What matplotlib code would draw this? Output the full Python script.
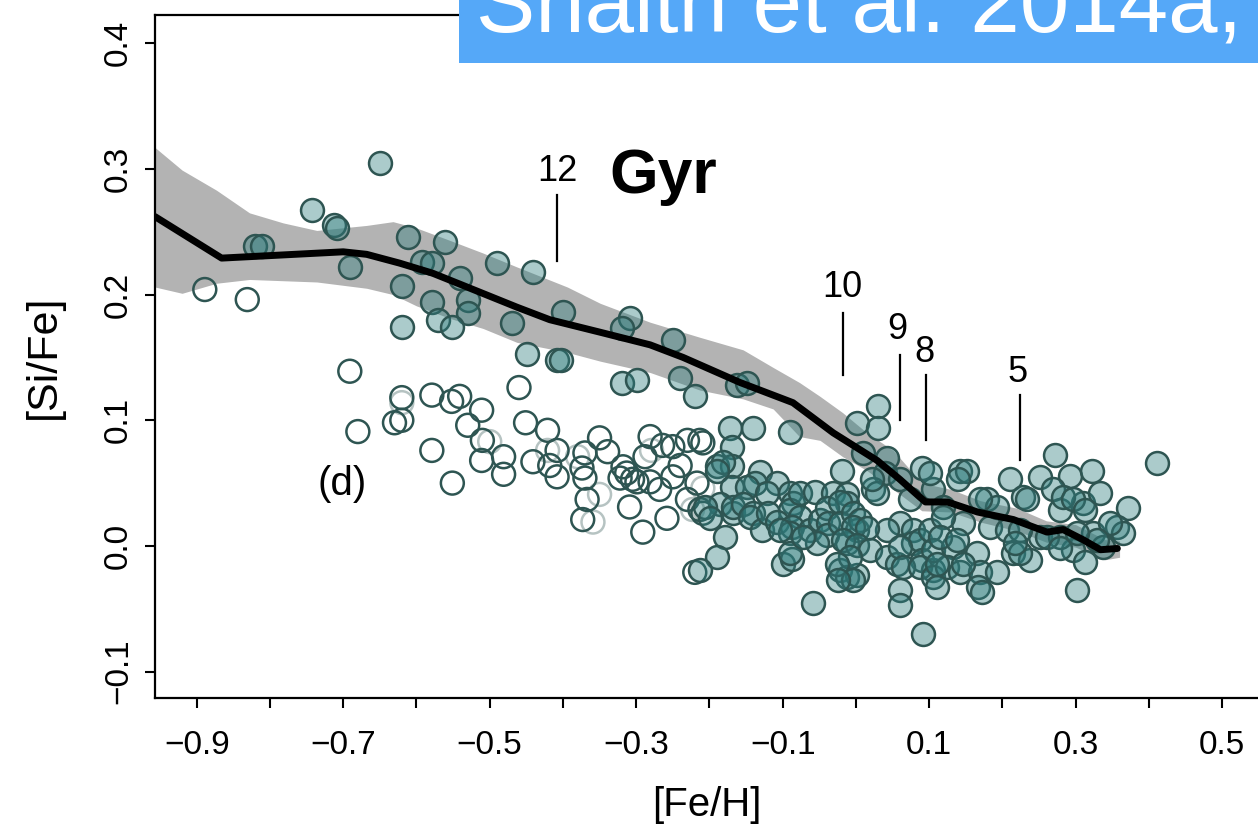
import matplotlib
matplotlib.use("Agg")
import matplotlib.pyplot as plt
from matplotlib.patches import Rectangle

plt.rcParams['font.family'] = ['Liberation Sans', 'DejaVu Sans']

# filled stars (thick disc / old sequence + thin disc)
fill_feh = [-0.650, -0.742, -0.712, -0.709, -0.821, -0.811, -0.691, -0.612, -0.561, -0.592,
            -0.579, -0.541, -0.620, -0.490, -0.441, -0.530, -0.530, -0.579, -0.620, -0.571,
            -0.552, -0.470, -0.400, -0.449, -0.408, -0.402, -0.309, -0.320, -0.250, -0.320,
            -0.299, -0.240, -0.220, -0.163, -0.149, -0.090, -0.172, -0.141, 0.001, 0.030,
            0.030, 0.010, 0.042, 0.040, -0.019, 0.090,
            -0.169, -0.189, -0.169, -0.182, -0.190, -0.169, -0.131, -0.138, -0.108, -0.149,
            -0.186, -0.206, -0.168, -0.168, -0.199, -0.179, -0.190, -0.213, -0.154, -0.141,
            -0.145, -0.128, -0.122, -0.120, -0.090, -0.086, -0.090, -0.077, -0.077, -0.056,
            -0.031, -0.012, -0.012, 0.023, 0.029, -0.108, -0.087, -0.090, -0.063, -0.049,
            -0.040, -0.038, -0.040, -0.022, -0.022, -0.004, 0.001, 0.005, -0.053, -0.100,
            -0.087, -0.090, -0.104, -0.072, -0.012, -0.004, 0.022, 0.060, 0.074, 0.105,
            0.060, 0.078, 0.042, 0.015, -0.018, 0.001, 0.019, 0.042, 0.056, 0.078,
            0.087, 0.101, 0.090, 0.105, -0.022, -0.012, 0.001, -0.008, -0.026, -0.004,
            -0.025, 0.060, 0.060, -0.059, 0.092, 0.060, 0.105, 0.133, 0.165, 0.064,
            0.087, 0.105, 0.124, 0.142, 0.169, 0.193, 0.167, 0.172, 0.111, 0.142,
            0.152, 0.139, 0.119, 0.179, 0.210, 0.228, 0.183, 0.206, 0.251, 0.272,
            0.292, 0.322, 0.269, 0.279, 0.310, 0.333, 0.372, 0.357, 0.324, 0.296,
            0.313, 0.251, 0.279, 0.224, 0.214, 0.238, 0.302, 0.411, 0.337, 0.365,
            0.283, 0.296, 0.234, 0.193, 0.169, 0.101, 0.313, 0.347, 0.329, 0.302,
            0.261, 0.146, 0.119, 0.115, 0.138, 0.224, 0.217, 0.279, 0.111, 0.146]
fill_sife = [0.305, 0.267, 0.255, 0.253, 0.239, 0.239, 0.222, 0.246, 0.242, 0.226,
             0.225, 0.213, 0.207, 0.225, 0.218, 0.196, 0.185, 0.194, 0.174, 0.180,
             0.174, 0.177, 0.186, 0.153, 0.148, 0.148, 0.181, 0.173, 0.164, 0.130,
             0.132, 0.134, 0.119, 0.128, 0.130, 0.091, 0.094, 0.094, 0.098, 0.111,
             0.094, 0.074, 0.070, 0.058, 0.060, 0.062,
             0.079, 0.064, 0.064, 0.067, 0.060, 0.047, 0.059, 0.050, 0.050, 0.047,
             0.033, 0.031, 0.026, 0.031, 0.022, 0.007, -0.009, -0.019, 0.033, 0.026,
             0.023, 0.013, 0.042, 0.026, 0.042, 0.034, 0.029, 0.042, 0.023, 0.043,
             0.042, 0.041, 0.034, 0.045, 0.042, 0.019, 0.015, 0.010, 0.013, 0.021,
             0.030, 0.018, 0.009, 0.035, 0.018, 0.026, 0.013, 0.021, 0.002, -0.014,
             -0.010, -0.006, 0.013, 0.007, 0.002, 0.015, 0.053, 0.053, 0.037, 0.045,
             0.018, 0.013, 0.013, 0.014, 0.005, 0.001, -0.003, -0.009, -0.014, 0.002,
             0.005, 0.013, -0.011, -0.019, -0.019, -0.025, -0.023, -0.009, -0.014, -0.027,
             -0.027, -0.035, -0.047, -0.045, -0.070, -0.001, -0.003, -0.001, -0.006, -0.017,
             -0.017, -0.025, -0.017, -0.021, -0.021, -0.021, -0.033, -0.037, -0.033, 0.060,
             0.060, 0.053, 0.031, 0.037, 0.053, 0.039, 0.015, 0.013, 0.055, 0.072,
             0.056, 0.060, 0.045, 0.029, 0.034, 0.042, 0.030, 0.015, 0.010, -0.003,
             -0.013, 0.007, 0.007, 0.013, -0.006, -0.011, -0.035, 0.066, -0.001, 0.010,
             0.039, 0.037, 0.037, 0.031, 0.037, 0.058, 0.029, 0.018, 0.005, 0.010,
             0.007, 0.018, 0.023, 0.007, 0.005, -0.006, 0.002, -0.002, -0.014, -0.014]

# open circles (metal-poor thin disc)
open_feh = [-0.889, -0.831, -0.691, -0.680, -0.620, -0.579, -0.630, -0.620, -0.552, -0.541,
            -0.511, -0.460, -0.530, -0.510, -0.579, -0.511, -0.481, -0.481, -0.551, -0.451,
            -0.421, -0.408, -0.441, -0.418, -0.408, -0.370, -0.374, -0.370, -0.350, -0.339,
            -0.367, -0.373, -0.318, -0.313, -0.309, -0.291, -0.299, -0.288, -0.281, -0.281,
            -0.268, -0.264, -0.250, -0.258, -0.250, -0.230, -0.213, -0.240, -0.217, -0.230,
            -0.213, -0.220, -0.209, -0.305, -0.322, -0.209]
open_sife = [0.204, 0.196, 0.139, 0.091, 0.118, 0.120, 0.098, 0.100, 0.115, 0.119,
             0.108, 0.126, 0.096, 0.084, 0.076, 0.068, 0.071, 0.057, 0.050, 0.098,
             0.092, 0.076, 0.067, 0.064, 0.055, 0.074, 0.062, 0.054, 0.086, 0.075,
             0.037, 0.021, 0.063, 0.058, 0.031, 0.011, 0.051, 0.071, 0.087, 0.051,
             0.045, 0.080, 0.079, 0.022, 0.055, 0.084, 0.084, 0.064, 0.050, 0.037,
             0.029, -0.021, 0.026, 0.053, 0.054, 0.082]
faint_feh = [-0.620, -0.500, -0.421, -0.380, -0.359, -0.350, -0.279, -0.223, -0.209, -0.209]
faint_sife = [0.114, 0.083, 0.076, 0.071, 0.019, 0.041, 0.076, 0.029, 0.046, 0.030]

# age-chemistry relation and its band
band_feh = [-0.957, -0.92, -0.873, -0.828, -0.782, -0.736, -0.668, -0.632, -0.60, -0.554,
            -0.509, -0.463, -0.394, -0.349, -0.281, -0.213, -0.154, -0.113, -0.077, -0.049,
            -0.018, 0.015, 0.051, 0.09, 0.13, 0.17, 0.22, 0.26, 0.30, 0.34, 0.36]
band_hi = [0.317, 0.299, 0.283, 0.265, 0.257, 0.251, 0.255, 0.258, 0.253, 0.243,
           0.233, 0.222, 0.206, 0.193, 0.178, 0.166, 0.156, 0.142, 0.130, 0.119,
           0.106, 0.090, 0.076, 0.050, 0.045, 0.036, 0.030, 0.020, 0.017, 0.005, 0.004]
band_lo = [0.206, 0.201, 0.209, 0.212, 0.211, 0.210, 0.205, 0.200, 0.191, 0.181,
           0.173, 0.162, 0.154, 0.147, 0.138, 0.124, 0.117, 0.109, 0.087, 0.084,
           0.071, 0.060, 0.045, 0.028, 0.027, 0.019, 0.012, 0.003, -0.001, -0.011, -0.009]
line_feh = [-0.957, -0.866, -0.70, -0.668, -0.623, -0.578, -0.531, -0.463, -0.418, -0.349,
            -0.281, -0.236, -0.158, -0.086, -0.031, 0.029, 0.060, 0.087, 0.095, 0.125,
            0.166, 0.215, 0.261, 0.283, 0.310, 0.334, 0.357]
line_sife = [0.262, 0.229, 0.234, 0.232, 0.225, 0.217, 0.206, 0.190, 0.180, 0.170,
             0.160, 0.150, 0.130, 0.114, 0.090, 0.068, 0.053, 0.039, 0.035, 0.035,
             0.027, 0.021, 0.011, 0.013, 0.005, -0.003, -0.002]

# age markers (Gyr)
age_labels = ['12', '10', '9', '8', '5']
age_feh = [-0.408, -0.018, 0.060, 0.096, 0.224]
age_tick_lo = [0.227, 0.136, 0.100, 0.084, 0.068]
age_tick_hi = [0.279, 0.185, 0.152, 0.136, 0.120]
age_text_feh = [-0.408, -0.018, 0.057, 0.094, 0.221]
age_text_sife = [0.298, 0.206, 0.172, 0.154, 0.138]

edge = '#2E5552'
fig = plt.figure(figsize=(12.58, 8.33), dpi=100)
ax = fig.add_axes([0.1232, 0.162, 0.8768, 0.820])

ax.fill_between(band_feh, band_lo, band_hi, color='#b3b3b3', lw=0, zorder=1)
ax.scatter(open_feh, open_sife, s=272, facecolors='none', edgecolors=edge, linewidths=1.8, zorder=2)
ax.scatter(faint_feh, faint_sife, s=272, facecolors='none', edgecolors=edge, alpha=0.35,
           linewidths=1.8, zorder=2)
ax.scatter(fill_feh, fill_sife, s=272, facecolors=(0.18, 0.49, 0.49, 0.4), edgecolors=edge,
           linewidths=1.8, zorder=3)
ax.plot(line_feh, line_sife, color='black', lw=5, solid_capstyle='round', zorder=4)

for lab, x, lo, hi, tx, ty in zip(age_labels, age_feh, age_tick_lo, age_tick_hi,
                                  age_text_feh, age_text_sife):
    ax.plot([x, x], [lo, hi], color='black', lw=1.6, zorder=5)
    ax.text(tx, ty, lab, fontsize=26, ha='center', va='center', zorder=5)
ax.text(-0.263, 0.294, 'Gyr', fontsize=45, fontweight='bold', ha='center', va='center')
ax.text(-0.701, 0.049, '(d)', fontsize=29, ha='center', va='center')

ax.set_xlim(-0.957, 0.549)
ax.set_ylim(-0.121, 0.4224)
ax.spines['right'].set_visible(False)
for s in ['left', 'bottom', 'top']:
    ax.spines[s].set_linewidth(1.6)
ax.set_xticks([-0.9, -0.8, -0.7, -0.6, -0.5, -0.4, -0.3, -0.2, -0.1, 0.0, 0.1, 0.2, 0.3, 0.4, 0.5])
ax.set_xticklabels(['\u22120.9', '', '\u22120.7', '', '\u22120.5', '', '\u22120.3', '',
                    '\u22120.1', '', '0.1', '', '0.3', '', '0.5'])
ax.set_yticks([-0.1, 0.0, 0.1, 0.2, 0.3, 0.4])
ax.set_yticklabels(['\u22120.1', '0.0', '0.1', '0.2', '0.3', '0.4'], rotation=90, va='center')
ax.tick_params(axis='both', length=7, width=1.5, labelsize=24)
ax.tick_params(axis='x', pad=16)
ax.tick_params(axis='y', pad=8)
ax.set_xlabel('[Fe/H]', fontsize=29, labelpad=18)
ax.set_ylabel('[Si/Fe]', fontsize=31, labelpad=28)

fig.patches.append(Rectangle((0.365, 0.924), 0.64, 0.1, transform=fig.transFigure,
                             facecolor='#55A8F8', edgecolor='none', zorder=10))
fig.text(0.378, 0.9616, 'Snaith et al. 2014a,', fontsize=64, color='white', va='baseline',
         ha='left', zorder=11)

fig.savefig('out.png', dpi=100)
